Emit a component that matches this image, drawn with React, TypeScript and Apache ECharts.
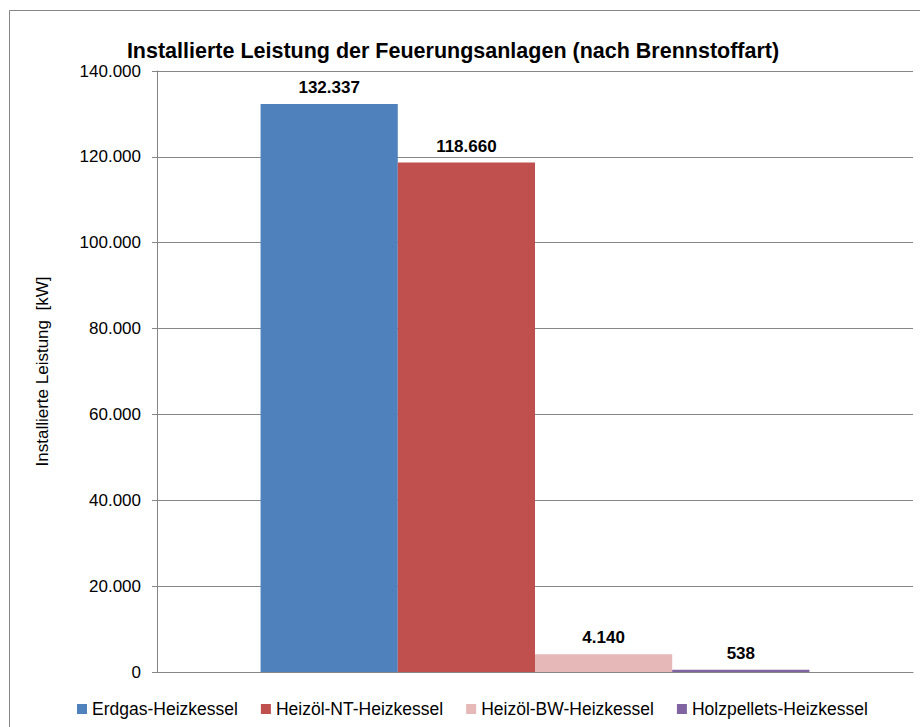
import React, { useEffect, useRef } from "react";
import * as echarts from "echarts";

const seriesNames = ["Erdgas-Heizkessel", "Heizöl-NT-Heizkessel", "Heizöl-BW-Heizkessel", "Holzpellets-Heizkessel"];
const seriesValues = [132337, 118660, 4140, 538];
const seriesColors = ["#4F81BD", "#C0504D", "#E6B9B8", "#8064A2"];
const categories = [""];

const fmt = (v: number) => String(Math.round(v)).replace(/\B(?=(\d{3})+(?!\d))/g, ".");

export default function App() {
  const ref = useRef<HTMLDivElement>(null);
  useEffect(() => {
    const chart = echarts.init(ref.current!, null, { renderer: "svg" });
    const font = "'Liberation Sans', Arial, sans-serif";
    chart.setOption({
      animation: false,
      textStyle: { fontFamily: font },
      title: {
        text: "Installierte Leistung der Feuerungsanlagen (nach Brennstoffart)",
        left: 448,
        textAlign: "center",
        top: 35,
        textStyle: { fontSize: 21.5, fontWeight: "bold", color: "#000", fontFamily: font },
      },
      graphic: [
        {
          type: "rect",
          shape: { x: 9.5, y: 10.5, width: 1000, height: 1000 },
          style: { fill: "none", stroke: "#868686", lineWidth: 1 },
          silent: true,
        },
      ],
      legend: {
        top: 695,
        left: 72,
        itemWidth: 10,
        itemHeight: 10,
        itemGap: 23,
        icon: "rect",
        textStyle: { fontSize: 17.5, color: "#000", fontFamily: font },
        data: seriesNames,
      },
      grid: { left: 157, right: 7, top: 71, bottom: 55, containLabel: false },
      xAxis: {
        type: "category",
        data: categories,
        axisLine: { lineStyle: { color: "#868686" } },
        axisTick: { show: false },
        axisLabel: { show: false },
      },
      yAxis: {
        type: "value",
        min: 0,
        max: 140000,
        interval: 20000,
        name: "Installierte Leistung  [kW]",
        nameLocation: "middle",
        nameGap: 106,
        nameRotate: 90,
        nameTextStyle: { fontSize: 17, color: "#000", fontFamily: font },
        axisLine: { show: true, lineStyle: { color: "#868686" } },
        axisTick: { show: true, length: 5, lineStyle: { color: "#868686" } },
        axisLabel: { fontSize: 17, color: "#000", margin: 16, formatter: (v: number) => fmt(v), fontFamily: font },
        splitLine: { lineStyle: { color: "#868686", width: 1 } },
      },
      series: seriesNames.map((n, i) => ({
        name: n,
        type: "bar",
        data: [seriesValues[i]],
        barGap: "0%",
        barCategoryGap: "27.4%",
        itemStyle: { color: seriesColors[i] },
        label: {
          show: true,
          position: "top",
          distance: 8,
          fontSize: 17,
          fontWeight: "bold",
          color: "#000",
          fontFamily: font,
          formatter: (p: any) => fmt(p.value),
        },
      })),
    });
    return () => chart.dispose();
  }, []);
  return <div ref={ref} style={{ width: 920, height: 727, position: "absolute", left: 0, top: 0 }} />;
}
